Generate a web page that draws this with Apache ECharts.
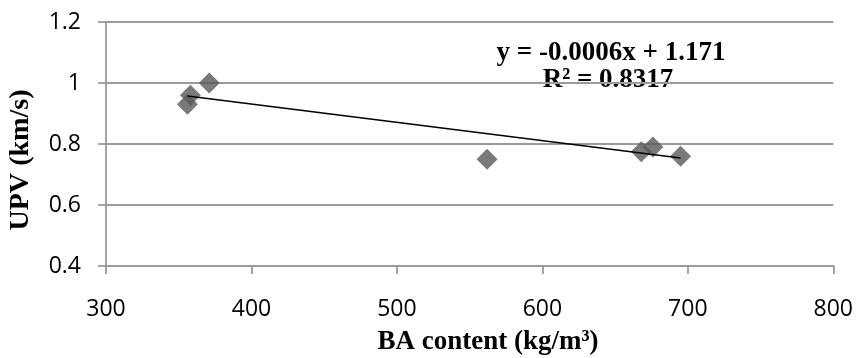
<!DOCTYPE html>
<html>
<head>
<meta charset="utf-8">
<style>
  html, body { margin: 0; padding: 0; background: #fff; }
  #chart { width: 856px; height: 358px; }
</style>
<script src="https://cdn.jsdelivr.net/npm/echarts@6/dist/echarts.min.js"></script>
</head>
<body>
<div id="chart"></div>
<script>
// BA content (kg/m³) against measured UPV (km/s)
const baContent = [356, 358, 371, 562, 668, 676, 695];
const upv = [0.93, 0.96, 1.00, 0.75, 0.775, 0.79, 0.76];

// Linear trend reported on the chart
const trendSlope = -0.0006;
const trendIntercept = 1.171;
const trendLabel = ['y = -0.0006x + 1.171', 'R² = 0.8317'];

const xTicks = { min: 300, max: 800, interval: 100 };
const yTicks = { min: 0.4, max: 1.2, interval: 0.2 };

const xName = 'BA content (kg/m³)';
const yName = 'UPV (km/s)';

const points = baContent.map((x, i) => [x, upv[i]]);
const xLo = Math.min(...baContent);
const xHi = Math.max(...baContent);
const trend = [xLo, xHi].map(x => [x, trendSlope * x + trendIntercept]);

const axisGray = '#9a9a9a';
const tickFont = { fontFamily: 'Open Sans', fontSize: 23, color: '#000' };
const serifFont = 'bold 27px "Liberation Serif"';

function serifText(text, x, y, rotation) {
  return {
    type: 'text', x: x, y: y, rotation: rotation || 0, scaleY: rotation ? 1 : 1.04, scaleX: rotation ? 1.04 : 1,
    style: { text: text, font: serifFont, fill: '#000', align: 'center', verticalAlign: 'middle' }
  };
}

const chart = echarts.init(document.getElementById('chart'), null, { renderer: 'canvas' });
chart.setOption({
  animation: false,
  grid: { left: 106, right: 20, top: 22, bottom: 92, containLabel: false },
  xAxis: {
    type: 'value',
    min: xTicks.min, max: xTicks.max, interval: xTicks.interval,
    axisLine: { show: true, lineStyle: { color: axisGray, width: 1.8 } },
    axisTick: { show: true, inside: false, length: 8, lineStyle: { color: axisGray, width: 1.8 } },
    splitLine: { show: false },
    axisLabel: Object.assign({ margin: 32 }, tickFont)
  },
  yAxis: {
    type: 'value',
    min: yTicks.min, max: yTicks.max, interval: yTicks.interval,
    axisLine: { show: true, lineStyle: { color: axisGray, width: 1.8 } },
    axisTick: { show: true, inside: false, length: 8, lineStyle: { color: axisGray, width: 1.8 } },
    splitLine: { show: true, lineStyle: { color: axisGray, width: 1.8 } },
    axisLabel: Object.assign({ margin: 25, formatter: v => String(Math.round(v * 10) / 10) }, tickFont)
  },
  series: [
    {
      type: 'line',
      data: trend,
      symbol: 'none',
      lineStyle: { color: '#000', width: 1.7 },
      z: 3
    },
    {
      type: 'scatter',
      data: points,
      symbol: 'diamond',
      symbolSize: 21,
      itemStyle: { color: '#595959' },
      z: 2
    }
  ],
  graphic: [
    serifText(xName, 488, 342),
    serifText(yName, 21, 160, Math.PI / 2),
    serifText(trendLabel[0], 611, 53),
    serifText(trendLabel[1], 608, 80)
  ]
});
</script>
</body>
</html>
